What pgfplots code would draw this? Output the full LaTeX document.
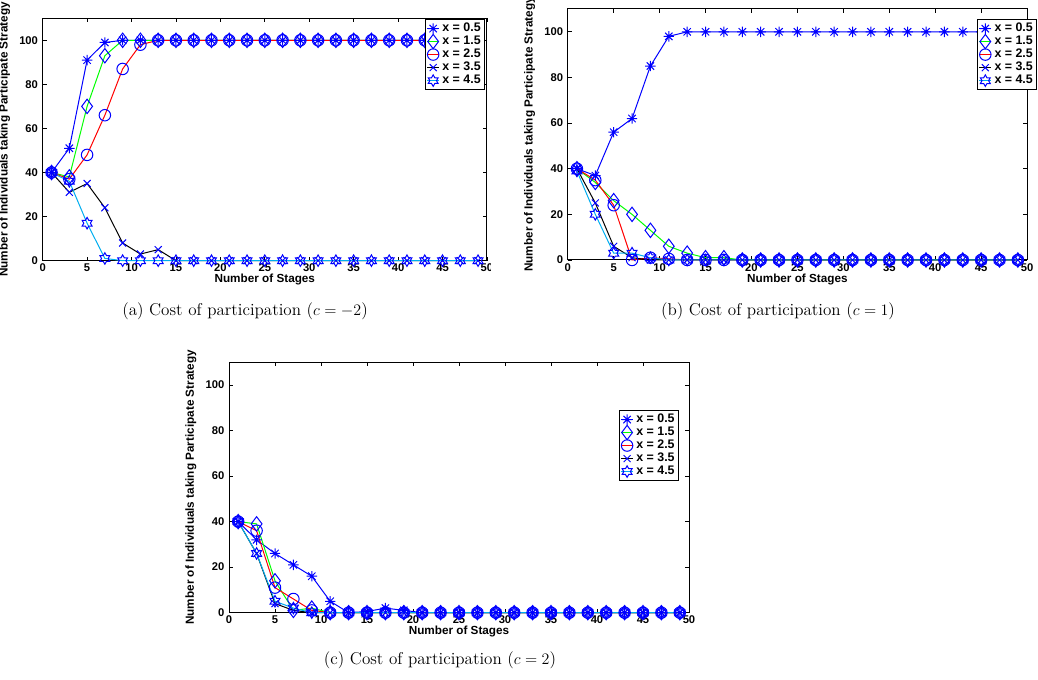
\documentclass[border=0pt]{standalone}
\usepackage{fontspec}
\usepackage{pgfplots}
\usepackage{pgfplotstable}
\pgfplotsset{compat=1.18}
\usetikzlibrary{plotmarks}

\newfontfamily\mlsans{Liberation Sans}
\newcommand\tickfont{\mlsans\bfseries\fontsize{8.4}{10}\selectfont}
\newcommand\labfont{\mlsans\bfseries\fontsize{8.8}{10}\selectfont}
\newcommand\legfont{\mlsans\bfseries\fontsize{9.3}{10}\selectfont}
\newcommand\capfont{\fontsize{12.8}{15}\selectfont}

% eight-armed asterisk
\pgfdeclareplotmark{mlstar}{%
  \pgfpathmoveto{\pgfqpoint{-\pgfplotmarksize}{0pt}}%
  \pgfpathlineto{\pgfqpoint{\pgfplotmarksize}{0pt}}%
  \pgfpathmoveto{\pgfqpoint{0pt}{-\pgfplotmarksize}}%
  \pgfpathlineto{\pgfqpoint{0pt}{\pgfplotmarksize}}%
  \pgfpathmoveto{\pgfqpoint{-0.707\pgfplotmarksize}{-0.707\pgfplotmarksize}}%
  \pgfpathlineto{\pgfqpoint{0.707\pgfplotmarksize}{0.707\pgfplotmarksize}}%
  \pgfpathmoveto{\pgfqpoint{-0.707\pgfplotmarksize}{0.707\pgfplotmarksize}}%
  \pgfpathlineto{\pgfqpoint{0.707\pgfplotmarksize}{-0.707\pgfplotmarksize}}%
  \pgfusepathqstroke}
% six-pointed star outline
\pgfdeclareplotmark{mlhex}{%
  \pgfpathmoveto{\pgfpointpolar{90}{\pgfplotmarksize}}%
  \pgfpathlineto{\pgfpointpolar{120}{0.577\pgfplotmarksize}}%
  \pgfpathlineto{\pgfpointpolar{150}{\pgfplotmarksize}}%
  \pgfpathlineto{\pgfpointpolar{180}{0.577\pgfplotmarksize}}%
  \pgfpathlineto{\pgfpointpolar{210}{\pgfplotmarksize}}%
  \pgfpathlineto{\pgfpointpolar{240}{0.577\pgfplotmarksize}}%
  \pgfpathlineto{\pgfpointpolar{270}{\pgfplotmarksize}}%
  \pgfpathlineto{\pgfpointpolar{300}{0.577\pgfplotmarksize}}%
  \pgfpathlineto{\pgfpointpolar{330}{\pgfplotmarksize}}%
  \pgfpathlineto{\pgfpointpolar{0}{0.577\pgfplotmarksize}}%
  \pgfpathlineto{\pgfpointpolar{30}{\pgfplotmarksize}}%
  \pgfpathlineto{\pgfpointpolar{60}{0.577\pgfplotmarksize}}%
  \pgfpathclose\pgfusepathqstroke}

\pgfplotsset{
  mlaxis/.style={
    scale only axis, clip=false,
    xmin=0, xmax=50, ymin=0, ymax=110,
    xtick={0,5,...,50}, ytick={0,20,...,100},
    tick align=inside, major tick length=3pt,
    axis line style={line width=0.75pt},
    every tick/.append style={black, line width=0.6pt},
    /pgf/number format/assume math mode=true,
    tick label style={font=\tickfont},
    xticklabel style={yshift=1pt},
    xlabel={Number of Stages},
    ylabel={Number of Individuals taking Participate Strategy},
    label style={font=\labfont},
    xlabel style={yshift=5pt},
    legend cell align=left,
    legend style={anchor=north east, draw=black, line width=0.8pt, fill=white,
      font=\legfont, inner sep=0.8pt, row sep=-2.2pt},
    legend image code/.code={\draw[mark repeat=2,mark phase=2]
      plot coordinates {(0cm,0cm) (0.16cm,0cm) (0.32cm,0cm)};},
  },
  s1/.style={blue, line width=0.75pt, mark=mlstar, mark size=3.9pt,
    mark options={solid, blue, line width=0.75pt}},
  s2/.style={green, line width=0.75pt, mark=diamond, mark size=5.4pt,
    mark options={solid, blue, line width=0.75pt}},
  s3/.style={red, line width=0.75pt, mark=o, mark size=4.3pt,
    mark options={solid, blue, line width=0.75pt}},
  s4/.style={black, line width=0.75pt, mark=x, mark size=3.7pt,
    mark options={solid, blue, line width=0.75pt}},
  s5/.style={cyan, line width=0.75pt, mark=mlhex, mark size=4.3pt,
    mark options={solid, blue, line width=0.75pt}},
}

% c = -2
\pgfplotstableread{
n  a   b   c   d   e
1  40  40  40  40  40
3  51  38  37  31  36
5  91  70  48  35  17
7  99  93  66  24  1
9  100 100 87  8   0
11 100 100 98  3   0
13 100 100 100 5   0
15 100 100 100 0   0
17 100 100 100 0   0
19 100 100 100 0   0
21 100 100 100 0   0
23 100 100 100 0   0
25 100 100 100 0   0
27 100 100 100 0   0
29 100 100 100 0   0
31 100 100 100 0   0
33 100 100 100 0   0
35 100 100 100 0   0
37 100 100 100 0   0
39 100 100 100 0   0
41 100 100 100 0   0
43 100 100 100 0   0
45 100 100 100 0   0
47 100 100 100 0   0
49 100 100 100 0   0
}\dataA

% c = 1
\pgfplotstableread{
n  a   b   c   d   e
1  40  40  40  40  39
3  37  34  35  25  20
5  56  26  24  6   3
7  62  20  0   1   3
9  85  13  1   0   1
11 98  6   0.5 0   0
13 100 3   0   0   0
15 100 1   0   0   0
17 100 1   0   0   0
19 100 0   0   0   0
21 100 0   0   0   0
23 100 0   0   0   0
25 100 0   0   0   0
27 100 0   0   0   0
29 100 0   0   0   0
31 100 0   0   0   0
33 100 0   0   0   0
35 100 0   0   0   0
37 100 0   0   0   0
39 100 0   0   0   0
41 100 0   0   0   0
43 100 0   0   0   0
45 100 0   0   0   0
47 100 0   0   0   0
49 100 0   0   0   0
}\dataB

% c = 2
\pgfplotstableread{
n  a   b   c   d   e
1  40  40  40  40  40
3  32  39  36  26  26
5  26  14  11  4   5
7  21  1   6   1   2
9  16  2   1   0   0
11 5   0   0   0   0
13 0   0   0   0   0
15 0.5 0   0   0   0
17 2   0   0   0   0
19 1   0   0   0   0
21 0   0   0   0   0
23 0   0   0   0   0
25 0   0   0   0   0
27 0   0   0   0   0
29 0   0   0   0   0
31 0   0   0   0   0
33 0   0   0   0   0
35 0   0   0   0   0
37 0   0   0   0   0
39 0   0   0   0   0
41 0   0   0   0   0
43 0   0   0   0   0
45 0   0   0   0   0
47 0   0   0   0   0
49 0   0   0   0   0
}\dataC

\newcommand\drawseries[1]{%
  \addplot[s1] table[x=n, y=a] {#1};
  \addplot[s2] table[x=n, y=b] {#1};
  \addplot[s3] table[x=n, y=c] {#1};
  \addplot[s4] table[x=n, y=d] {#1};
  \addplot[s5] table[x=n, y=e] {#1};
  \legend{x = 0.5, x = 1.5, x = 2.5, x = 3.5, x = 4.5}}

\begin{document}
\begin{tikzpicture}
\begin{scope}
\clip (0pt,255pt) rectangle (367.5pt,510pt);
\begin{axis}[mlaxis, at={(32pt,314.5pt)}, anchor=south west,
  width=333.2pt, height=181.8pt,
  legend style={at={(rel axis cs:0.9955,0.997)}}]
\drawseries{\dataA}
\end{axis}
\end{scope}

\begin{axis}[mlaxis, at={(425.8pt,315pt)}, anchor=south west,
  width=344.5pt, height=188.25pt,
  legend style={at={(rel axis cs:1.0218,0.960)}}]
\drawseries{\dataB}
\end{axis}

\begin{axis}[mlaxis, at={(171.75pt,50.5pt)}, anchor=south west,
  width=345pt, height=187.8pt,
  legend style={at={(rel axis cs:0.978,0.8095)}}]
\drawseries{\dataC}
\end{axis}

\node[font=\capfont] at (183.75pt,276.5pt) {(a) Cost of participation ($c=-2$)};
\node[font=\capfont] at (583.5pt,276.5pt) {(b) Cost of participation ($c=1$)};
\node[font=\capfont] at (330pt,15pt) {(c) Cost of participation ($c=2$)};

\pgfresetboundingbox
\useasboundingbox (0pt,0pt) rectangle (778.5pt,510pt);
\end{tikzpicture}
\end{document}
